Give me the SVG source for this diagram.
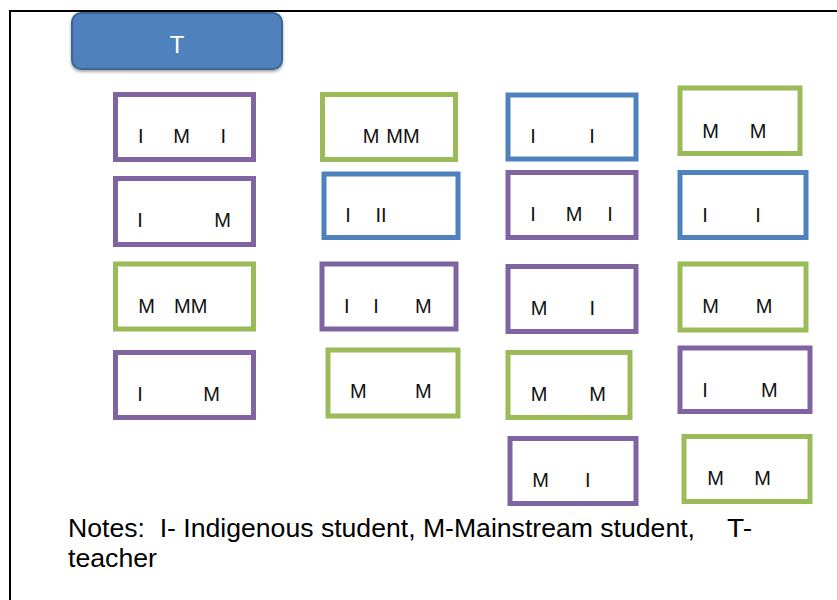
<svg xmlns="http://www.w3.org/2000/svg" width="837" height="600" viewBox="0 0 837 600">
  <defs>
    <filter id="sh" x="-10%" y="-20%" width="120%" height="150%">
      <feDropShadow dx="0" dy="2" stdDeviation="1.5" flood-color="#000" flood-opacity="0.35"/>
    </filter>
  </defs>
  <style>
    .seat{fill:#fff;stroke-width:5}
    .p{stroke:#8064A2}
    .g{stroke:#9BBB59}
    .b{stroke:#4F81BD}
    .lbl{font-family:"Liberation Sans",Arial,sans-serif;font-size:20px;fill:#111;text-anchor:middle}
    .note{font-family:"Liberation Sans",Arial,sans-serif;font-size:25px;fill:#000}
  </style>
  <rect width="837" height="600" fill="#fff"/>
  <path d="M10,600 V11 H837" fill="none" stroke="#000" stroke-width="2"/>

  <g id="teacher">
    <rect x="72" y="13" width="210" height="56" rx="9" fill="#4F81BD" stroke="#3B6597" stroke-width="2" filter="url(#sh)"/>
    <text x="177" y="53" font-family="Liberation Sans,Arial,sans-serif" font-size="24" fill="#fff" text-anchor="middle">T</text>
  </g>

  <g id="desk1"><rect class="seat p" x="115.5" y="94.5" width="138" height="65"/>
    <text class="lbl" y="143"><tspan x="140.7">I</tspan><tspan x="181.7">M</tspan><tspan x="223.3">I</tspan></text></g>
  <g id="desk2"><rect class="seat g" x="322.5" y="94.5" width="133" height="65"/>
    <text class="lbl" y="143"><tspan x="371">M</tspan><tspan x="403">MM</tspan></text></g>
  <g id="desk3"><rect class="seat p" x="115.5" y="178.5" width="138" height="66"/>
    <text class="lbl" y="227"><tspan x="140">I</tspan><tspan x="222.7">M</tspan></text></g>
  <g id="desk4"><rect class="seat b" x="324" y="174" width="134" height="63.5"/>
    <text class="lbl" y="222"><tspan x="348">I</tspan><tspan x="381">II</tspan></text></g>
  <g id="desk5"><rect class="seat b" x="508" y="95" width="128" height="64"/>
    <text class="lbl" y="143"><tspan x="533">I</tspan><tspan x="592">I</tspan></text></g>
  <g id="desk6"><rect class="seat g" x="680" y="88" width="120" height="65.5"/>
    <text class="lbl" y="137.5"><tspan x="710.7">M</tspan><tspan x="758">M</tspan></text></g>
  <g id="desk7"><rect class="seat p" x="508" y="172.5" width="128" height="65"/>
    <text class="lbl" y="221"><tspan x="533">I</tspan><tspan x="574">M</tspan><tspan x="610">I</tspan></text></g>
  <g id="desk8"><rect class="seat b" x="680" y="172.5" width="126" height="65"/>
    <text class="lbl" y="222"><tspan x="705">I</tspan><tspan x="758">I</tspan></text></g>
  <g id="desk9"><rect class="seat g" x="115.5" y="264" width="138" height="65"/>
    <text class="lbl" y="313"><tspan x="146.7">M</tspan><tspan x="190.7">MM</tspan></text></g>
  <g id="desk10"><rect class="seat p" x="322" y="264" width="134" height="65"/>
    <text class="lbl" y="313"><tspan x="346.7">I</tspan><tspan x="376">I</tspan><tspan x="423.3">M</tspan></text></g>
  <g id="desk11"><rect class="seat p" x="115.5" y="352.5" width="138" height="65"/>
    <text class="lbl" y="401"><tspan x="140">I</tspan><tspan x="211.7">M</tspan></text></g>
  <g id="desk12"><rect class="seat g" x="328" y="350" width="130" height="66"/>
    <text class="lbl" y="398"><tspan x="358.3">M</tspan><tspan x="423.3">M</tspan></text></g>
  <g id="desk13"><rect class="seat p" x="508" y="266.5" width="128" height="65"/>
    <text class="lbl" y="315"><tspan x="539">M</tspan><tspan x="592.3">I</tspan></text></g>
  <g id="desk14"><rect class="seat g" x="680" y="264" width="126" height="66"/>
    <text class="lbl" y="313"><tspan x="710.7">M</tspan><tspan x="764">M</tspan></text></g>
  <g id="desk15"><rect class="seat g" x="508" y="352.5" width="122" height="65"/>
    <text class="lbl" y="401"><tspan x="539">M</tspan><tspan x="597.7">M</tspan></text></g>
  <g id="desk16"><rect class="seat p" x="680" y="348" width="130" height="63.5"/>
    <text class="lbl" y="396.7"><tspan x="705">I</tspan><tspan x="769.3">M</tspan></text></g>
  <g id="desk17"><rect class="seat p" x="510" y="438.5" width="126" height="65"/>
    <text class="lbl" y="486.7"><tspan x="540.7">M</tspan><tspan x="587.7">I</tspan></text></g>
  <g id="desk18"><rect class="seat g" x="684" y="436.5" width="126" height="65"/>
    <text class="lbl" y="485"><tspan x="715.7">M</tspan><tspan x="762.7">M</tspan></text></g>

  <g id="notes">
    <text class="note" x="68" y="536.5" xml:space="preserve" textLength="627" lengthAdjust="spacingAndGlyphs">Notes:  I- Indigenous student, M-Mainstream student,</text>
    <text class="note" x="727" y="536.5" textLength="25" lengthAdjust="spacingAndGlyphs">T-</text>
    <text class="note" x="68" y="566.5" textLength="89" lengthAdjust="spacingAndGlyphs">teacher</text>
  </g>
  <g id="connectors"></g>
</svg>
